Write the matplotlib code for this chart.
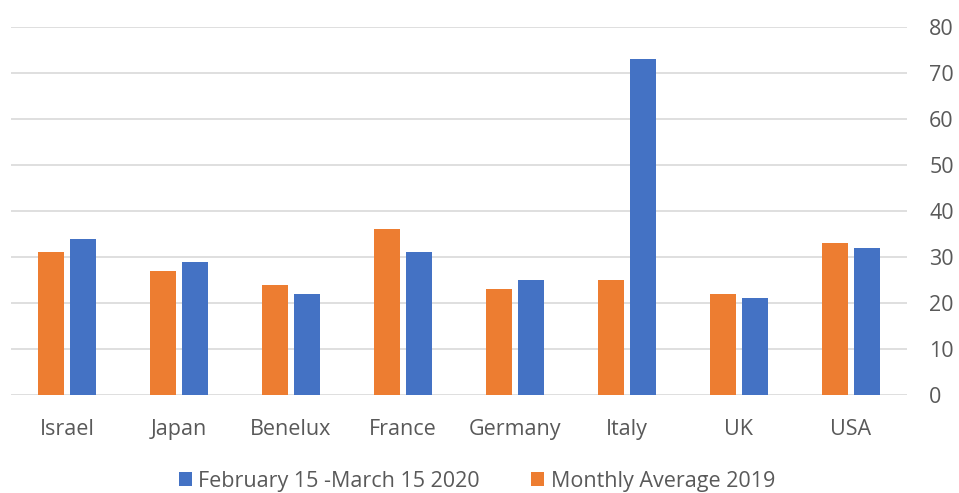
import matplotlib

matplotlib.use("Agg")
import matplotlib.pyplot as plt
import numpy as np

countries = ["Israel", "Japan", "Benelux", "France", "Germany", "Italy", "UK", "USA"]
feb_mar_2020 = [34, 29, 22, 31, 25, 73, 21, 32]
monthly_avg_2019 = [31, 27, 24, 36, 23, 25, 22, 33]
y_ticks = [0, 10, 20, 30, 40, 50, 60, 70, 80]

blue = "#4472c4"
orange = "#ed7d31"
grey_text = "#595959"
grid_grey = "#d9d9d9"

plt.rcParams["font.family"] = ["Open Sans", "DejaVu Sans"]

fig = plt.figure(figsize=(9.59, 4.93), dpi=100)
ax = fig.add_axes([11 / 959, 1 - 395 / 493, 896 / 959, 368 / 493])

x = np.arange(len(countries))
width = 0.23
offset = 0.145
ax.bar(x + offset, feb_mar_2020, width, color=blue, label="February 15 -March 15 2020", zorder=3)
ax.bar(x - offset, monthly_avg_2019, width, color=orange, label="Monthly Average 2019", zorder=3)

ax.set_xlim(-0.5, len(countries) - 0.5)
ax.set_ylim(0, 80)
ax.set_yticks(y_ticks)
ax.yaxis.tick_right()
ax.set_xticks(x)
ax.set_xticklabels(countries)
ax.tick_params(axis="both", length=0, labelsize=15.5, colors=grey_text)
ax.tick_params(axis="y", pad=16)
ax.tick_params(axis="x", pad=17)
ax.grid(axis="y", color=grid_grey, linewidth=1.2, zorder=0)
for spine in ax.spines.values():
    spine.set_visible(False)

handles, labels = ax.get_legend_handles_labels()
fig.legend(handles, labels, loc="center", bbox_to_anchor=(477 / 959, 1 - 481 / 493), ncol=2,
           frameon=False, fontsize=15.5, handlelength=0.6, handleheight=0.6, handletextpad=0.3,
           columnspacing=2.4, labelcolor=grey_text)

fig.savefig("out.png", dpi=100, facecolor="white")
